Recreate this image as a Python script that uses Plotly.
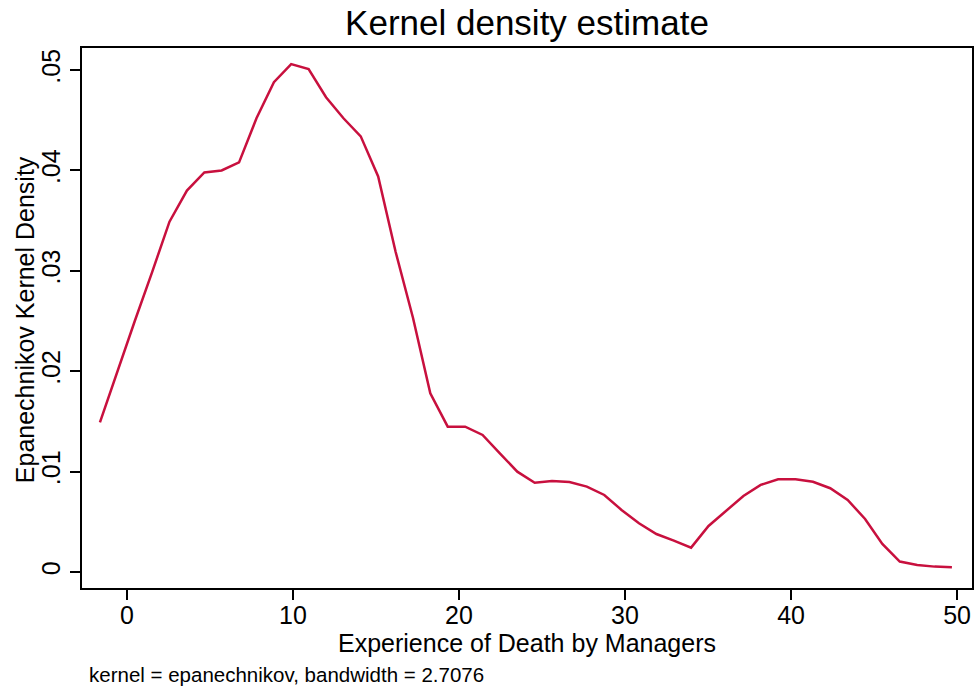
import plotly.graph_objects as go

# kdensity evaluation grid and estimated density
x_grid = [-1.63, -0.58, 0.47, 1.52, 2.56, 3.61, 4.66, 5.70, 6.75, 7.80,
          8.85, 9.89, 10.94, 11.99, 13.04, 14.08, 15.13, 16.18, 17.23, 18.27,
          19.32, 20.37, 21.42, 22.46, 23.51, 24.56, 25.60, 26.65, 27.70, 28.75,
          29.79, 30.84, 31.89, 32.94, 33.98, 35.03, 36.08, 37.13, 38.17, 39.22,
          40.27, 41.32, 42.36, 43.41, 44.46, 45.50, 46.55, 47.60, 48.65, 49.69]
density = [0.0149, 0.0200, 0.0250, 0.0299, 0.0349, 0.0380, 0.0398, 0.0400, 0.0408, 0.0452,
           0.0488, 0.0506, 0.0501, 0.0473, 0.0452, 0.0434, 0.0394, 0.0319, 0.0253, 0.0178,
           0.01447, 0.01447, 0.01365, 0.01182, 0.00999, 0.00889, 0.00906, 0.00896, 0.00850, 0.00767,
           0.00618, 0.00485, 0.00378, 0.00312, 0.00242, 0.00458, 0.00608, 0.00757, 0.00867, 0.00923,
           0.00923, 0.00899, 0.00834, 0.00717, 0.00528, 0.00279, 0.00103, 0.00070, 0.00053, 0.00047]

x_ticks = [0, 10, 20, 30, 40, 50]
y_ticks = [0, 0.01, 0.02, 0.03, 0.04, 0.05]
y_labels = ['0', '.01', '.02', '.03', '.04', '.05']

font = 'Liberation Sans, Arial, sans-serif'

fig = go.Figure()
fig.add_trace(go.Scatter(x=x_grid, y=density, mode='lines',
                         line=dict(color='#C8103E', width=2.5), showlegend=False))

fig.update_layout(
    width=975, height=690,
    margin=dict(l=82, r=3, t=48, b=102),
    paper_bgcolor='white', plot_bgcolor='white',
    font=dict(family=font, color='black', size=25),
    title=dict(text='Kernel density estimate', x=0.5405, xanchor='center',
               y=0.967, yanchor='middle', font=dict(size=35, color='black')),
)
fig.update_xaxes(range=[-2.71, 50.9], tickvals=x_ticks, ticks='outside', ticklen=10,
                 tickwidth=1.5, tickcolor='black', showline=True, linecolor='black',
                 linewidth=1.5, mirror=True, showgrid=False, zeroline=False,
                 automargin=False, ticklabelstandoff=-6, tickfont=dict(size=25))
fig.update_yaxes(range=[-0.0016, 0.0522], tickvals=y_ticks, ticktext=y_labels,
                 tickangle=-90, ticks='outside', ticklen=10, tickwidth=1.5,
                 tickcolor='black', showline=True, linecolor='black', linewidth=1.5,
                 mirror=True, showgrid=False, zeroline=False, automargin=False,
                 tickfont=dict(size=25))

# axis titles and the note, placed as in the Stata graph
fig.add_annotation(text='Experience of Death by Managers', xref='paper', yref='paper',
                   x=0.5, y=-0.102, xanchor='center', yanchor='middle',
                   showarrow=False, font=dict(size=25))
fig.add_annotation(text='Epanechnikov Kernel Density', xref='paper', yref='paper',
                   x=-0.064, y=0.496, xanchor='center', yanchor='middle',
                   textangle=-90, showarrow=False, font=dict(size=25))
fig.add_annotation(text='kernel = epanechnikov, bandwidth = 2.7076',
                   xref='paper', yref='paper', x=0.0056, y=-0.161,
                   xanchor='left', yanchor='middle', showarrow=False,
                   font=dict(size=20.5))

# drop the default 8px body margin so the figure fills the window, no modebar
fig.write_html("out.html", config={'displayModeBar': False},
               post_script="document.body.style.margin='0px';")
